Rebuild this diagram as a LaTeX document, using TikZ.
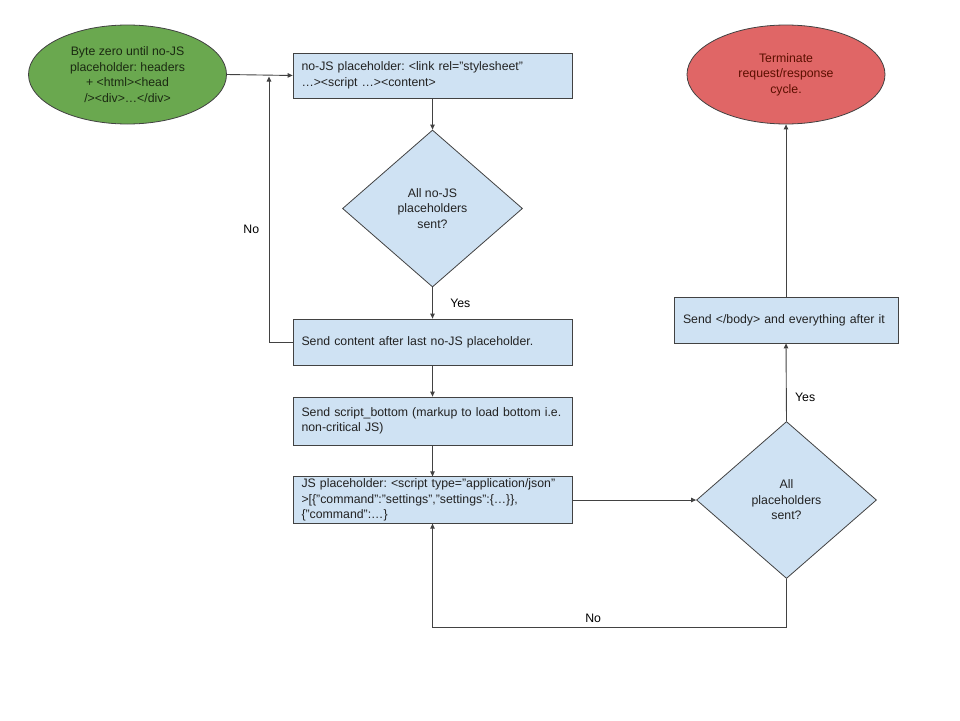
\documentclass[tikz,border=0pt]{standalone}
\usepackage{fontspec}
\setmainfont{Liberation Sans}
\usetikzlibrary{shapes.geometric, arrows.meta}
\definecolor{boxblue}{HTML}{CFE2F3}
\definecolor{startgreen}{HTML}{6AA84F}
\definecolor{stopred}{HTML}{E06666}
\definecolor{stoptext}{HTML}{5B0F00}
\definecolor{starttext}{HTML}{1B2A12}
\definecolor{linegray}{HTML}{424242}
\definecolor{textgray}{HTML}{222222}
\frenchspacing
\begin{document}
\begin{tikzpicture}[x = 1pt, y = -1pt,
        every node/.style = {font = \fontsize{12.3}{15.5}\selectfont, text = textgray},
        procbox/.style = {draw = linegray, fill = boxblue, line width = 0.8pt, text width = 262pt,
            inner xsep = 8.5pt, inner ysep = 2pt, align = left, minimum height = 46pt},
        decision/.style = {diamond, draw = linegray, fill = boxblue, line width = 0.8pt, inner sep = 0pt,
            align = center, minimum width = 180pt, minimum height = 157pt},
        terminal/.style = {ellipse, draw = linegray, line width = 0.8pt, inner sep = 0pt,
            align = center, minimum width = 198pt, minimum height = 99pt},
        flowline/.style = {draw = linegray, line width = 0.9pt, -{Triangle[length = 5pt, width = 4.5pt]}},
        flowlabel/.style = {text = black}]
    \useasboundingbox (0, 0) rectangle (960, 720);
    \node[terminal, fill = startgreen, text = starttext] (start) at (127.5, 74.5) {
            Byte zero until no-JS\\placeholder: headers\\+ <html><head\\/><div>…</div>
        };
    \node[procbox, minimum height = 45pt] (nojs) at (432.5, 75.5) {
            no-JS placeholder: <link rel="stylesheet"\\…><script …><content>
        };
    \node[decision] (nojssent) at (432.5, 208.5) {
            All no-JS\\placeholders\\sent?
        };
    \node[procbox] (sendcontent) at (432.5, 342) {
            Send content after last no-JS placeholder.
        };
    \node[procbox, minimum height = 48pt] (scriptbottom) at (432.5, 421) {
            Send script\_bottom (markup to load bottom i.e.\\non-critical JS)
        };
    \node[procbox] (jsph) at (432.5, 500) {
            JS placeholder: <script type="application/json"\\>[\{"command":"settings","settings":\{…\}\},\\\{"command":…\}
        };
    \node[decision] (allsent) at (786.5, 500) {
            All\\placeholders\\sent?
        };
    \node[procbox, text width = 206pt, inner xsep = 9pt] (sendbody) at (786, 320) {
            Send </body> and everything after it
        };
    \node[terminal, fill = stopred, text = stoptext] (stop) at (786, 74.5) {
            Terminate\\request/response\\cycle.
        };
    \coordinate (feedtop) at (269, 76.5);
    \coordinate (loopcorner) at (432.5, 627);
    \draw[flowline] (start.east) -- (nojs.west);
    \draw[flowline] (nojs.south) -- (nojssent.north);
    \draw[flowline] (nojssent.south) -- (sendcontent.north)
        node[flowlabel, pos = 0.5, right = 14pt] (yesa) {Yes};
    \draw[flowline] (sendcontent.west) -| (feedtop)
        node[flowlabel, pos = 0.713, left = 6pt] (noa) {No};
    \draw[flowline] (sendcontent.south) -- (scriptbottom.north);
    \draw[flowline] (scriptbottom.south) -- (jsph.north);
    \draw[flowline] (jsph.east) -- (allsent.west);
    \draw[flowline] (allsent.north) -- (sendbody.south)
        node[flowlabel, pos = 0.3, right = 5pt] (yesb) {Yes};
    \draw[flowline] (sendbody.north) -- (stop.south);
    \draw[flowline] (allsent.south) |- (loopcorner)
        node[flowlabel, pos = 0.773, above = 1pt] (nob) {No}
        -- (jsph.south);
\end{tikzpicture}
\end{document}
